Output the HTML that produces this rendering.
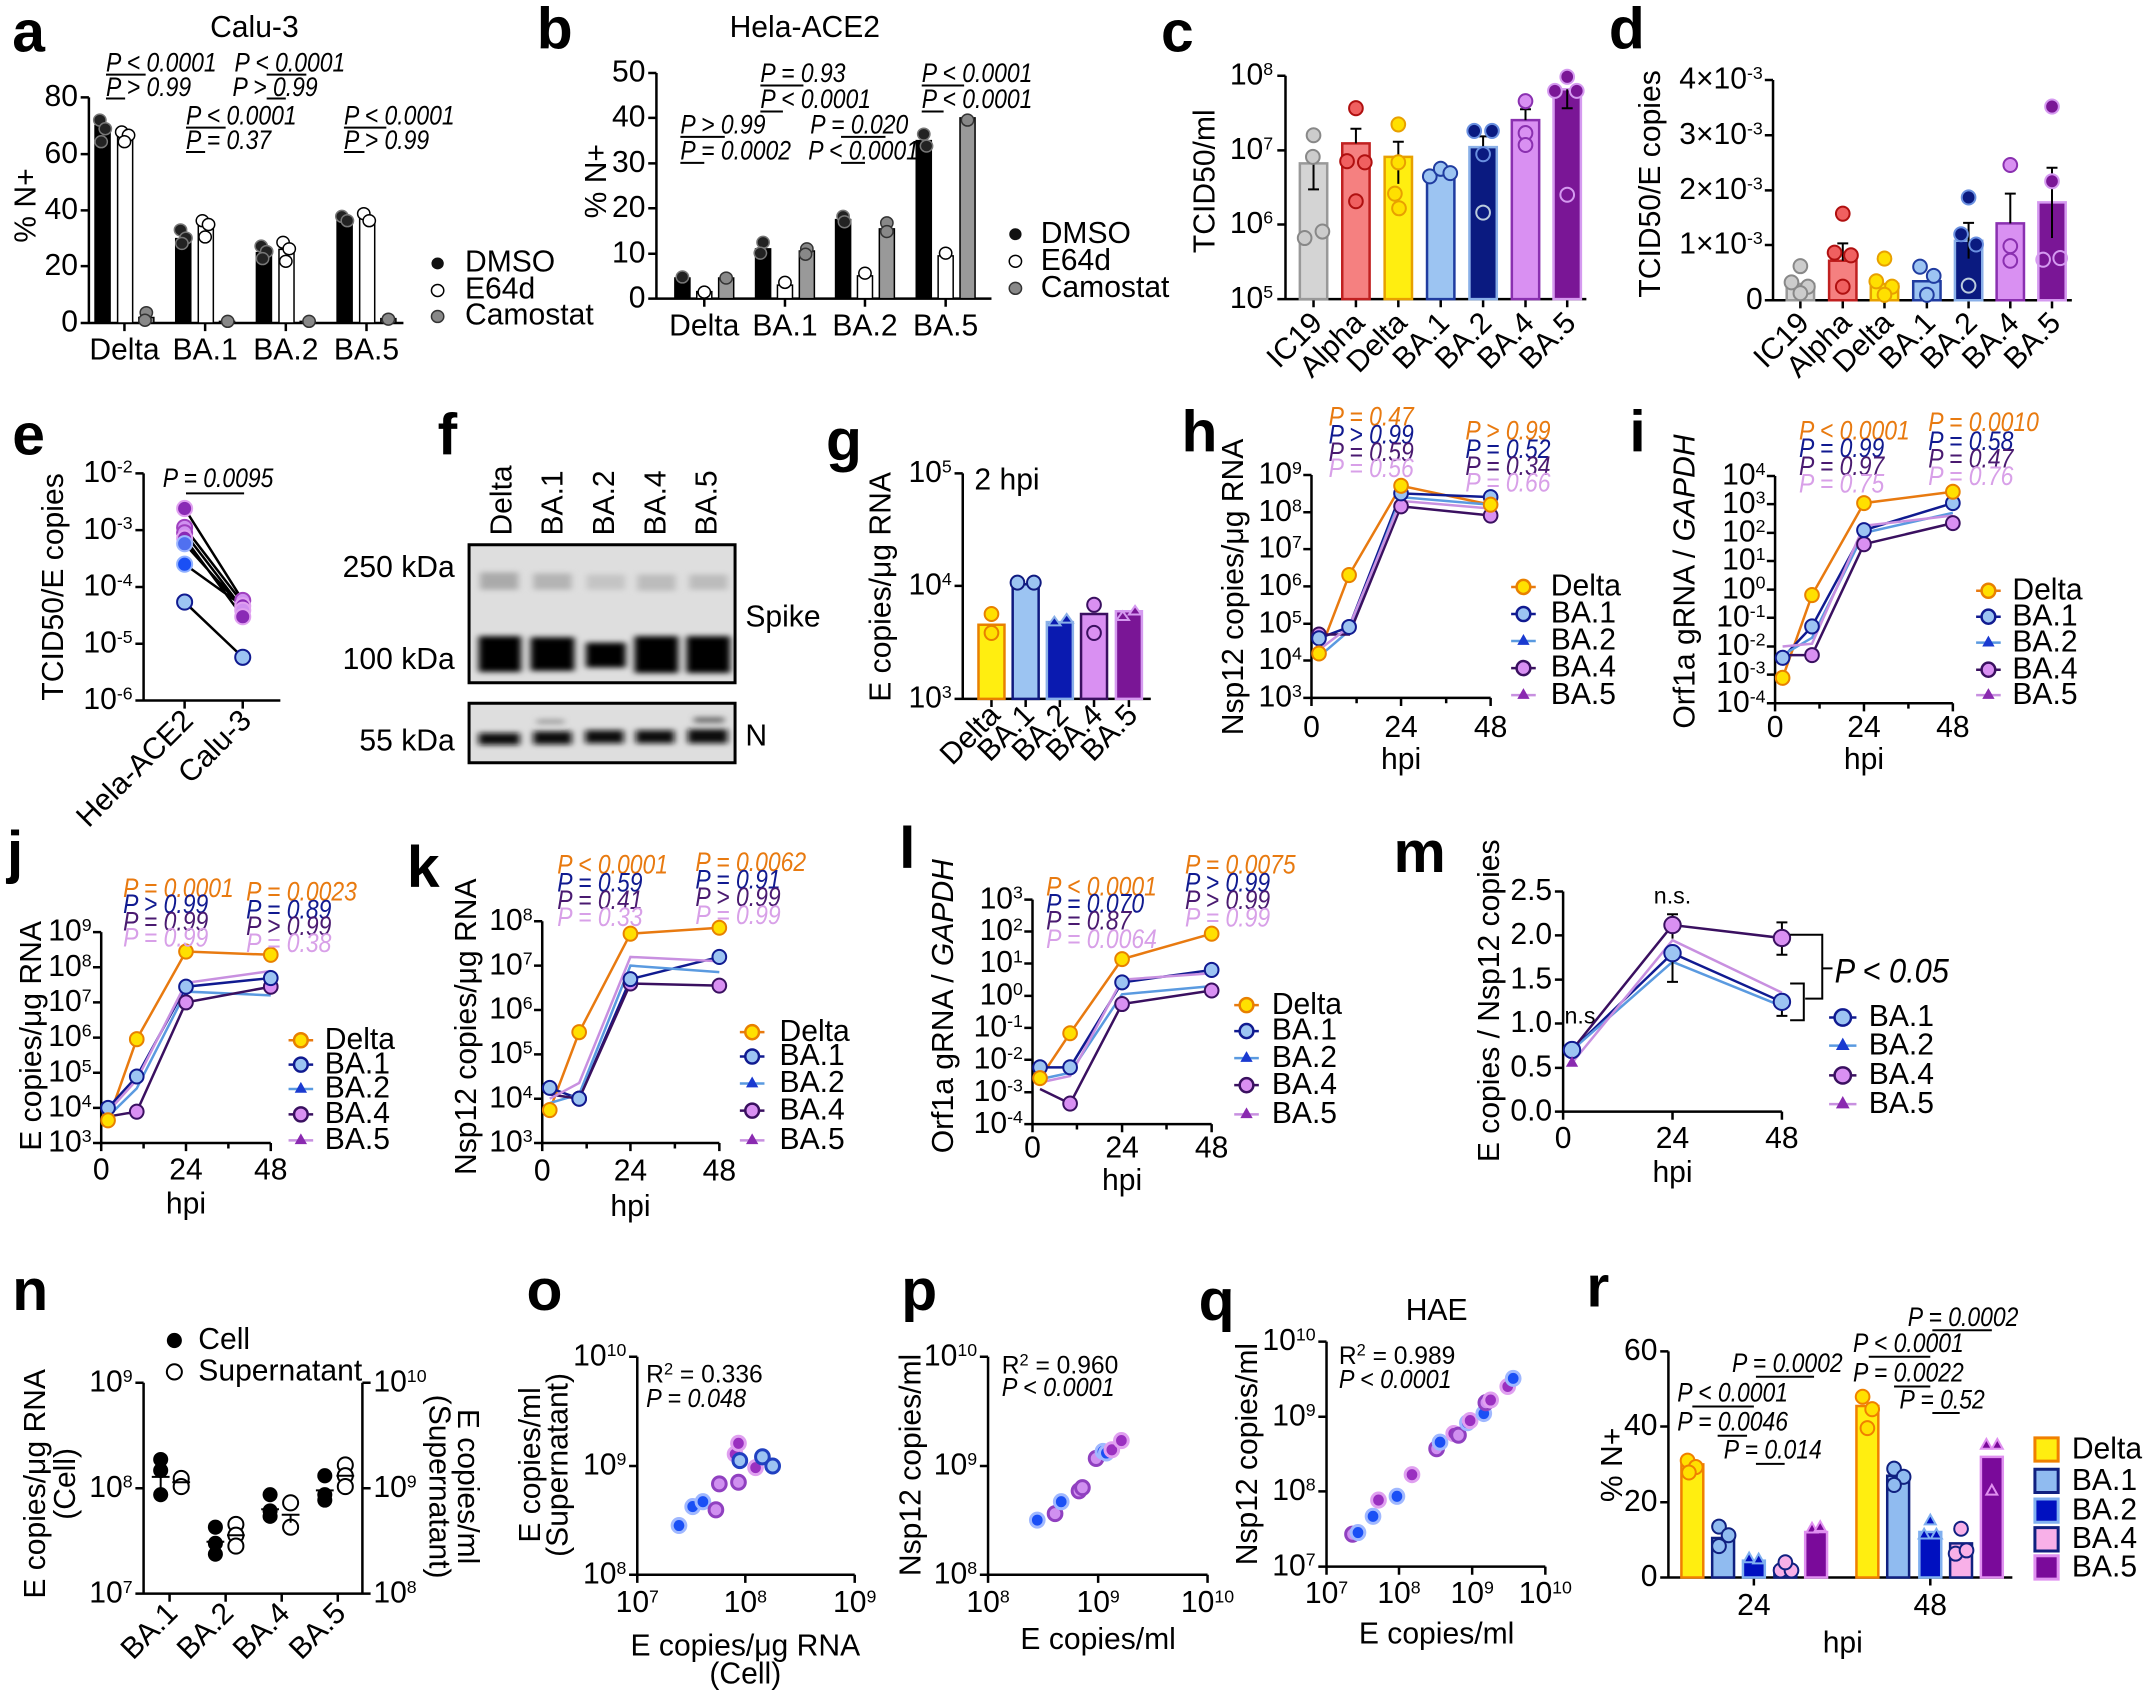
<!DOCTYPE html>
<html><head><meta charset="utf-8"><style>
html,body{margin:0;padding:0;background:#fff}
svg{display:block}
text{font-family:"Liberation Sans",Arial,sans-serif}
*{vector-effect:non-scaling-stroke}
.L{font-size:86px;font-weight:bold}
.t{font-size:44px;text-anchor:end}
.tm{font-size:44px;text-anchor:middle}
.ti{font-size:44px}
.p{font-size:39px;font-style:italic}
.g{font-size:44px}
.ax{fill:none;stroke:#000;stroke-width:2.5}
.e{stroke:#000;stroke-width:2;fill:none}
tspan.s{font-size:26px}
</style></head><body>
<svg width="2145" height="1697" viewBox="0 0 3137 3137" preserveAspectRatio="none" xmlns="http://www.w3.org/2000/svg">
<rect width="3137" height="3137" fill="#fff"/>
<defs><filter id="bl" x="-20%" y="-50%" width="140%" height="200%"><feGaussianBlur stdDeviation="5"/></filter></defs>

<!-- ===== Panel a ===== -->
<text class="L" transform="translate(18 95) scale(1 1.264)">a</text>
<text class="tm" transform="translate(372 68) scale(1 1.264)">Calu-3</text>
<path class="ax" d="M130,180 V597 H590 M118,180H130 M118,285H130 M118,389H130 M118,492H130 M118,597H130 M182,597V612 M300,597V612 M418,597V612 M536,597V612"/>
<text class="t" transform="translate(114 196) scale(1 1.264)">80</text>
<text class="t" transform="translate(114 301) scale(1 1.264)">60</text>
<text class="t" transform="translate(114 405) scale(1 1.264)">40</text>
<text class="t" transform="translate(114 508) scale(1 1.264)">20</text>
<text class="t" transform="translate(114 613) scale(1 1.264)">0</text>
<text class="tm" transform="translate(52 380) scale(1 1.264) rotate(-90)">% N+</text>
<text class="tm" transform="translate(182 665) scale(1 1.264)">Delta</text>
<text class="tm" transform="translate(300 665) scale(1 1.264)">BA.1</text>
<text class="tm" transform="translate(418 665) scale(1 1.264)">BA.2</text>
<text class="tm" transform="translate(536 665) scale(1 1.264)">BA.5</text>
<g stroke="#000" stroke-width="1.5">
<rect x="139" y="232" width="22" height="365" fill="#000"/>
<rect x="172" y="253" width="22" height="344" fill="#fff"/>
<rect x="203" y="587" width="22" height="10" fill="#888"/>
<rect x="257" y="441" width="22" height="156" fill="#000"/>
<rect x="290" y="415" width="22" height="182" fill="#fff"/>
<rect x="321" y="594" width="22" height="3" fill="#888"/>
<rect x="375" y="467" width="22" height="130" fill="#000"/>
<rect x="408" y="461" width="22" height="136" fill="#fff"/>
<rect x="439" y="594" width="22" height="3" fill="#888"/>
<rect x="493" y="404" width="22" height="193" fill="#000"/>
<rect x="526" y="404" width="22" height="193" fill="#fff"/>
<rect x="557" y="589" width="22" height="8" fill="#888"/>
</g>
<g stroke="#777" stroke-width="1.5" fill="#222">
<ellipse cx="146" cy="222" rx="9" ry="11"/><ellipse cx="154" cy="238" rx="9" ry="11"/><ellipse cx="148" cy="262" rx="9" ry="11"/>
<ellipse cx="264" cy="425" rx="9" ry="11"/><ellipse cx="272" cy="440" rx="9" ry="11"/><ellipse cx="266" cy="450" rx="9" ry="11"/>
<ellipse cx="382" cy="455" rx="9" ry="11"/><ellipse cx="390" cy="465" rx="9" ry="11"/><ellipse cx="384" cy="478" rx="9" ry="11"/>
<ellipse cx="500" cy="400" rx="9" ry="11"/><ellipse cx="508" cy="408" rx="9" ry="11"/>
</g>
<g stroke="#000" stroke-width="1.5" fill="#fff">
<ellipse cx="178" cy="244" rx="9" ry="11"/><ellipse cx="188" cy="250" rx="9" ry="11"/><ellipse cx="182" cy="262" rx="9" ry="11"/>
<ellipse cx="296" cy="408" rx="9" ry="11"/><ellipse cx="305" cy="415" rx="9" ry="11"/><ellipse cx="300" cy="438" rx="9" ry="11"/>
<ellipse cx="414" cy="448" rx="9" ry="11"/><ellipse cx="423" cy="460" rx="9" ry="11"/><ellipse cx="418" cy="483" rx="9" ry="11"/>
<ellipse cx="532" cy="395" rx="9" ry="11"/><ellipse cx="540" cy="408" rx="9" ry="11"/>
</g>
<g stroke="#333" stroke-width="1.5" fill="#888">
<ellipse cx="214" cy="578" rx="9" ry="11"/><ellipse cx="212" cy="592" rx="9" ry="11"/>
<ellipse cx="333" cy="594" rx="9" ry="11"/><ellipse cx="452" cy="594" rx="9" ry="11"/><ellipse cx="568" cy="590" rx="9" ry="11"/>
</g>
<text class="p" transform="translate(155 132) scale(0.86 1.264)">P &lt; 0.0001</text>
<text class="p" transform="translate(155 177) scale(0.86 1.264)">P &gt; 0.99</text>
<text class="p" transform="translate(343 132) scale(0.86 1.264)">P &lt; 0.0001</text>
<text class="p" transform="translate(340 177) scale(0.86 1.264)">P &gt; 0.99</text>
<text class="p" transform="translate(272 230) scale(0.86 1.264)">P &lt; 0.0001</text>
<text class="p" transform="translate(272 275) scale(0.86 1.264)">P = 0.37</text>
<text class="p" transform="translate(503 230) scale(0.86 1.264)">P &lt; 0.0001</text>
<text class="p" transform="translate(503 275) scale(0.86 1.264)">P &gt; 0.99</text>
<path class="e" d="M155,138H213 M155,182H183 M390,138H448 M390,182H418 M272,236H330 M272,281H300 M503,236H565 M503,281H533"/>
<ellipse cx="640" cy="487" rx="9" ry="11" fill="#111"/><ellipse cx="640" cy="537" rx="9" ry="11" fill="#fff" stroke="#000" stroke-width="1.5"/><ellipse cx="640" cy="585" rx="9" ry="11" fill="#888" stroke="#333" stroke-width="1.5"/>
<text class="g" transform="translate(680 502) scale(1 1.264)">DMSO</text>
<text class="g" transform="translate(680 552) scale(1 1.264)">E64d</text>
<text class="g" transform="translate(680 600) scale(1 1.264)">Camostat</text>

<!-- ===== Panel b ===== -->
<text class="L" transform="translate(785 90) scale(1 1.264)">b</text>
<text class="tm" transform="translate(1177 68) scale(1 1.264)">Hela-ACE2</text>
<path class="ax" d="M960,135 V552 H1450 M948,135H960 M948,218H960 M948,302H960 M948,385H960 M948,469H960 M948,552H960 M1030,552V567 M1148,552V567 M1265,552V567 M1383,552V567"/>
<text class="t" transform="translate(944 151) scale(1 1.264)">50</text>
<text class="t" transform="translate(944 234) scale(1 1.264)">40</text>
<text class="t" transform="translate(944 318) scale(1 1.264)">30</text>
<text class="t" transform="translate(944 401) scale(1 1.264)">20</text>
<text class="t" transform="translate(944 485) scale(1 1.264)">10</text>
<text class="t" transform="translate(944 568) scale(1 1.264)">0</text>
<text class="tm" transform="translate(886 335) scale(1 1.264) rotate(-90)">% N+</text>
<text class="tm" transform="translate(1030 620) scale(1 1.264)">Delta</text>
<text class="tm" transform="translate(1148 620) scale(1 1.264)">BA.1</text>
<text class="tm" transform="translate(1265 620) scale(1 1.264)">BA.2</text>
<text class="tm" transform="translate(1383 620) scale(1 1.264)">BA.5</text>
<g stroke="#000" stroke-width="1.5">
<rect x="987" y="514" width="22" height="38" fill="#000"/><rect x="1019" y="539" width="22" height="13" fill="#fff"/><rect x="1051" y="514" width="22" height="38" fill="#999"/>
<rect x="1105" y="460" width="22" height="92" fill="#000"/><rect x="1137" y="527" width="22" height="25" fill="#fff"/><rect x="1169" y="464" width="22" height="88" fill="#999"/>
<rect x="1222" y="406" width="22" height="146" fill="#000"/><rect x="1254" y="510" width="22" height="42" fill="#fff"/><rect x="1286" y="423" width="22" height="129" fill="#999"/>
<rect x="1340" y="260" width="22" height="292" fill="#000"/><rect x="1372" y="473" width="22" height="79" fill="#fff"/><rect x="1404" y="218" width="22" height="334" fill="#999"/>
</g>
<g stroke="#777" stroke-width="1.5" fill="#222">
<ellipse cx="998" cy="512" rx="9" ry="11"/><ellipse cx="1116" cy="448" rx="9" ry="11"/><ellipse cx="1112" cy="468" rx="9" ry="11"/><ellipse cx="1233" cy="400" rx="9" ry="11"/><ellipse cx="1235" cy="410" rx="9" ry="11"/><ellipse cx="1351" cy="248" rx="9" ry="11"/><ellipse cx="1355" cy="270" rx="9" ry="11"/>
</g>
<g stroke="#000" stroke-width="1.5" fill="#fff">
<ellipse cx="1030" cy="540" rx="9" ry="11"/><ellipse cx="1148" cy="522" rx="9" ry="11"/><ellipse cx="1265" cy="505" rx="9" ry="11"/><ellipse cx="1383" cy="468" rx="9" ry="11"/>
</g>
<g stroke="#333" stroke-width="1.5" fill="#888">
<ellipse cx="1062" cy="514" rx="9" ry="11"/><ellipse cx="1180" cy="460" rx="9" ry="11"/><ellipse cx="1178" cy="470" rx="9" ry="11"/><ellipse cx="1297" cy="412" rx="9" ry="11"/><ellipse cx="1297" cy="428" rx="9" ry="11"/><ellipse cx="1415" cy="222" rx="9" ry="11"/>
</g>
<text class="p" transform="translate(995 247) scale(0.86 1.264)">P &gt; 0.99</text>
<text class="p" transform="translate(995 295) scale(0.86 1.264)">P = 0.0002</text>
<text class="p" transform="translate(1112 152) scale(0.86 1.264)">P = 0.93</text>
<text class="p" transform="translate(1112 200) scale(0.86 1.264)">P &lt; 0.0001</text>
<text class="p" transform="translate(1185 247) scale(0.86 1.264)">P = 0.020</text>
<text class="p" transform="translate(1182 295) scale(0.86 1.264)">P &lt; 0.0001</text>
<text class="p" transform="translate(1348 152) scale(0.86 1.264)">P &lt; 0.0001</text>
<text class="p" transform="translate(1348 200) scale(0.86 1.264)">P &lt; 0.0001</text>
<path class="e" d="M995,253H1060 M995,301H1030 M1112,158H1175 M1112,206H1145 M1230,253H1295 M1230,301H1265 M1348,158H1410 M1348,206H1380"/>
<ellipse cx="1485" cy="433" rx="9" ry="11" fill="#111"/><ellipse cx="1485" cy="483" rx="9" ry="11" fill="#fff" stroke="#000" stroke-width="1.5"/><ellipse cx="1485" cy="533" rx="9" ry="11" fill="#888" stroke="#333" stroke-width="1.5"/>
<text class="g" transform="translate(1522 449) scale(1 1.264)">DMSO</text>
<text class="g" transform="translate(1522 499) scale(1 1.264)">E64d</text>
<text class="g" transform="translate(1522 549) scale(1 1.264)">Camostat</text>

<!-- ===== Panel c ===== -->
<text class="L" transform="translate(1698 95) scale(1 1.264)">c</text>
<path class="ax" d="M1880,140 V553 H2320 M1868,140H1880 M1868,278H1880 M1868,415H1880 M1868,553H1880 M1921,553V568 M1983,553V568 M2045,553V568 M2107,553V568 M2169,553V568 M2231,553V568 M2292,553V568"/>
<text class="t" transform="translate(1862 156) scale(1 1.264)">10<tspan class="s" dy="-14">8</tspan></text>
<text class="t" transform="translate(1862 294) scale(1 1.264)">10<tspan class="s" dy="-14">7</tspan></text>
<text class="t" transform="translate(1862 431) scale(1 1.264)">10<tspan class="s" dy="-14">6</tspan></text>
<text class="t" transform="translate(1862 569) scale(1 1.264)">10<tspan class="s" dy="-14">5</tspan></text>
<text class="tm" transform="translate(1776 335) scale(1 1.264) rotate(-90)">TCID50/ml</text>
<g stroke-width="2.5">
<rect x="1901" y="302" width="40" height="251" fill="#d4d4d4" stroke="#999"/>
<rect x="1963" y="265" width="40" height="288" fill="#f58080" stroke="#c02020"/>
<rect x="2025" y="290" width="40" height="263" fill="#ffee10" stroke="#e8a000"/>
<rect x="2087" y="322" width="40" height="231" fill="#9cc4f2" stroke="#203ca0"/>
<rect x="2149" y="272" width="40" height="281" fill="#0a1a80" stroke="#8ab0e8"/>
<rect x="2211" y="222" width="40" height="331" fill="#d990f2" stroke="#8a30b0"/>
<rect x="2272" y="165" width="40" height="388" fill="#7a1696" stroke="#d59af0"/>
</g>
<path class="e" d="M1921,302V350 M1913,350H1929 M1983,265V238 M1975,238H1991 M2045,290V262 M2037,262H2053 M2045,290V340 M2169,272V252 M2161,252H2177 M2231,222V202 M2223,202H2239 M2292,165V200 M2284,200H2300" stroke-width="2"/>
<g stroke-width="2">
<g fill="#ccc" stroke="#888"><ellipse cx="1921" cy="250" rx="10" ry="13"/><ellipse cx="1920" cy="290" rx="10" ry="13"/><ellipse cx="1908" cy="440" rx="10" ry="13"/><ellipse cx="1934" cy="428" rx="10" ry="13"/></g>
<g fill="#f06060" stroke="#b01010"><ellipse cx="1983" cy="200" rx="10" ry="13"/><ellipse cx="1970" cy="298" rx="10" ry="13"/><ellipse cx="1996" cy="300" rx="10" ry="13"/><ellipse cx="1983" cy="372" rx="10" ry="13"/></g>
<g fill="#ffe000" stroke="#e8a000"><ellipse cx="2045" cy="230" rx="10" ry="13"/><ellipse cx="2045" cy="300" rx="10" ry="13"/><ellipse cx="2040" cy="358" rx="10" ry="13"/><ellipse cx="2046" cy="385" rx="10" ry="13"/></g>
<g fill="#9cc4f2" stroke="#203ca0"><ellipse cx="2091" cy="326" rx="10" ry="13"/><ellipse cx="2107" cy="312" rx="10" ry="13"/><ellipse cx="2121" cy="320" rx="10" ry="13"/></g>
<g fill="#0a1a80" stroke="#6a90e0"><ellipse cx="2156" cy="242" rx="10" ry="13"/><ellipse cx="2182" cy="242" rx="10" ry="13"/><ellipse cx="2169" cy="285" rx="10" ry="13"/><ellipse cx="2169" cy="393" rx="10" ry="13" fill="none" stroke="#bcd"/></g>
<g fill="#d990f2" stroke="#8a30b0"><ellipse cx="2231" cy="187" rx="10" ry="13"/><ellipse cx="2231" cy="246" rx="10" ry="13"/><ellipse cx="2231" cy="268" rx="10" ry="13"/></g>
<g fill="#7a1696" stroke="#d59af0"><ellipse cx="2292" cy="142" rx="10" ry="13"/><ellipse cx="2274" cy="168" rx="10" ry="13"/><ellipse cx="2306" cy="168" rx="10" ry="13"/><ellipse cx="2292" cy="360" rx="10" ry="13" fill="none"/></g>
</g>
<text class="t" transform="translate(1936 600) scale(1 1.264) rotate(-45)">IC19</text>
<text class="t" transform="translate(1998 600) scale(1 1.264) rotate(-45)">Alpha</text>
<text class="t" transform="translate(2060 600) scale(1 1.264) rotate(-45)">Delta</text>
<text class="t" transform="translate(2122 600) scale(1 1.264) rotate(-45)">BA.1</text>
<text class="t" transform="translate(2184 600) scale(1 1.264) rotate(-45)">BA.2</text>
<text class="t" transform="translate(2246 600) scale(1 1.264) rotate(-45)">BA.4</text>
<text class="t" transform="translate(2307 600) scale(1 1.264) rotate(-45)">BA.5</text>

<!-- ===== Panel d ===== -->
<text class="L" transform="translate(2353 90) scale(1 1.264)">d</text>
<path class="ax" d="M2593,148 V555 H3030 M2581,148H2593 M2581,250H2593 M2581,352H2593 M2581,453H2593 M2581,555H2593 M2633,555V570 M2695,555V570 M2756,555V570 M2818,555V570 M2879,555V570 M2940,555V570 M3001,555V570"/>
<text class="t" transform="translate(2578 164) scale(1 1.264)">4×10<tspan class="s" dy="-14">-3</tspan></text>
<text class="t" transform="translate(2578 266) scale(1 1.264)">3×10<tspan class="s" dy="-14">-3</tspan></text>
<text class="t" transform="translate(2578 368) scale(1 1.264)">2×10<tspan class="s" dy="-14">-3</tspan></text>
<text class="t" transform="translate(2578 469) scale(1 1.264)">1×10<tspan class="s" dy="-14">-3</tspan></text>
<text class="t" transform="translate(2578 571) scale(1 1.264)">0</text>
<text class="tm" transform="translate(2428 340) scale(1 1.264) rotate(-90)">TCID50/E copies</text>
<g stroke-width="2.5">
<rect x="2613" y="525" width="40" height="30" fill="#d4d4d4" stroke="#999"/>
<rect x="2675" y="482" width="40" height="73" fill="#f58080" stroke="#c02020"/>
<rect x="2736" y="525" width="40" height="30" fill="#ffee10" stroke="#e8a000"/>
<rect x="2798" y="520" width="40" height="35" fill="#9cc4f2" stroke="#203ca0"/>
<rect x="2859" y="445" width="40" height="110" fill="#0a1a80" stroke="#8ab0e8"/>
<rect x="2920" y="413" width="40" height="142" fill="#d990f2" stroke="#8a30b0"/>
<rect x="2981" y="374" width="40" height="181" fill="#7a1696" stroke="#d59af0"/>
</g>
<path class="e" d="M2695,482V450 M2687,450H2703 M2879,445V412 M2871,412H2887 M2879,445V478 M2940,413V358 M2932,358H2948 M3001,374V310 M2993,310H3009 M3001,374V440" stroke-width="2"/>
<g stroke-width="2">
<g fill="#ccc" stroke="#888"><ellipse cx="2633" cy="492" rx="10" ry="13"/><ellipse cx="2620" cy="522" rx="10" ry="13"/><ellipse cx="2644" cy="530" rx="10" ry="13"/><ellipse cx="2633" cy="542" rx="10" ry="13"/></g>
<g fill="#f06060" stroke="#b01010"><ellipse cx="2695" cy="395" rx="10" ry="13"/><ellipse cx="2683" cy="467" rx="10" ry="13"/><ellipse cx="2707" cy="472" rx="10" ry="13"/><ellipse cx="2695" cy="530" rx="10" ry="13"/></g>
<g fill="#ffe000" stroke="#e8a000"><ellipse cx="2756" cy="478" rx="10" ry="13"/><ellipse cx="2744" cy="520" rx="10" ry="13"/><ellipse cx="2767" cy="530" rx="10" ry="13"/><ellipse cx="2756" cy="545" rx="10" ry="13"/></g>
<g fill="#9cc4f2" stroke="#203ca0"><ellipse cx="2808" cy="493" rx="10" ry="13"/><ellipse cx="2828" cy="510" rx="10" ry="13"/><ellipse cx="2818" cy="545" rx="10" ry="13"/></g>
<g fill="#0a1a80" stroke="#6a90e0"><ellipse cx="2879" cy="365" rx="10" ry="13"/><ellipse cx="2868" cy="433" rx="10" ry="13"/><ellipse cx="2890" cy="452" rx="10" ry="13"/><ellipse cx="2879" cy="528" rx="10" ry="13" fill="none" stroke="#bcd"/></g>
<g fill="#d990f2" stroke="#8a30b0"><ellipse cx="2940" cy="305" rx="10" ry="13"/><ellipse cx="2940" cy="455" rx="10" ry="13"/><ellipse cx="2940" cy="482" rx="10" ry="13"/></g>
<g fill="#7a1696" stroke="#d59af0"><ellipse cx="3001" cy="197" rx="10" ry="13"/><ellipse cx="3001" cy="335" rx="10" ry="13"/><ellipse cx="2988" cy="480" rx="10" ry="13" fill="none"/><ellipse cx="3013" cy="477" rx="10" ry="13" fill="none"/></g>
</g>
<text class="t" transform="translate(2648 600) scale(1 1.264) rotate(-45)">IC19</text>
<text class="t" transform="translate(2710 600) scale(1 1.264) rotate(-45)">Alpha</text>
<text class="t" transform="translate(2771 600) scale(1 1.264) rotate(-45)">Delta</text>
<text class="t" transform="translate(2833 600) scale(1 1.264) rotate(-45)">BA.1</text>
<text class="t" transform="translate(2894 600) scale(1 1.264) rotate(-45)">BA.2</text>
<text class="t" transform="translate(2955 600) scale(1 1.264) rotate(-45)">BA.4</text>
<text class="t" transform="translate(3016 600) scale(1 1.264) rotate(-45)">BA.5</text>

<!-- ===== Panel e ===== -->
<text class="L" transform="translate(18 840) scale(1 1.264)">e</text>
<path class="ax" d="M210,875 V1295 H410 M198,875H210 M198,980H210 M198,1085H210 M198,1190H210 M198,1295H210 M270,1295V1310 M355,1295V1310"/>
<text class="t" transform="translate(194 891) scale(1 1.264)">10<tspan class="s" dy="-14">-2</tspan></text>
<text class="t" transform="translate(194 996) scale(1 1.264)">10<tspan class="s" dy="-14">-3</tspan></text>
<text class="t" transform="translate(194 1101) scale(1 1.264)">10<tspan class="s" dy="-14">-4</tspan></text>
<text class="t" transform="translate(194 1206) scale(1 1.264)">10<tspan class="s" dy="-14">-5</tspan></text>
<text class="t" transform="translate(194 1311) scale(1 1.264)">10<tspan class="s" dy="-14">-6</tspan></text>
<text class="tm" transform="translate(92 1085) scale(1 1.264) rotate(-90)">TCID50/E copies</text>
<text class="p" transform="translate(238 900) scale(0.86 1.264)">P = 0.0095</text>
<path class="e" d="M272,912H357"/>
<path stroke="#000" stroke-width="2.5" d="M270,940L355,1110 M270,975L355,1115 M270,985L355,1125 M270,995L355,1140 M270,1005L355,1125 M270,1043L355,1120 M270,1113L355,1215"/>
<g stroke-width="2">
<ellipse cx="270" cy="940" rx="11" ry="14" fill="#8a2ab5" stroke="#e0a0f0"/><ellipse cx="270" cy="975" rx="11" ry="14" fill="#d090f0" stroke="#a040c0"/><ellipse cx="270" cy="985" rx="11" ry="14" fill="#d090f0" stroke="#a040c0"/><ellipse cx="270" cy="995" rx="11" ry="14" fill="#8a2ab5" stroke="#e0a0f0"/><ellipse cx="270" cy="1005" rx="11" ry="14" fill="#5070f0" stroke="#a0b8ff"/><ellipse cx="270" cy="1043" rx="11" ry="14" fill="#1a4ff5" stroke="#90b0ff"/><ellipse cx="270" cy="1113" rx="11" ry="14" fill="#9cc4f2" stroke="#101a90"/>
<ellipse cx="355" cy="1110" rx="11" ry="14" fill="#d090f0" stroke="#a040c0"/><ellipse cx="355" cy="1120" rx="11" ry="14" fill="#8a2ab5" stroke="#e0a0f0"/><ellipse cx="355" cy="1128" rx="11" ry="14" fill="#d090f0" stroke="#e0a0f0"/><ellipse cx="355" cy="1140" rx="11" ry="14" fill="#8a2ab5" stroke="#e0a0f0"/><ellipse cx="355" cy="1215" rx="11" ry="14" fill="#9cc4f2" stroke="#101a90"/>
</g>
<text class="t" transform="translate(285 1335) scale(1 1.264) rotate(-45)">Hela-ACE2</text>
<text class="t" transform="translate(370 1335) scale(1 1.264) rotate(-45)">Calu-3</text>

<!-- ===== Panel f ===== -->
<text class="L" transform="translate(640 840) scale(1 1.264)">f</text>
<text class="ti" transform="translate(748 990) scale(1 1.264) rotate(-90)">Delta</text>
<text class="ti" transform="translate(823 990) scale(1 1.264) rotate(-90)">BA.1</text>
<text class="ti" transform="translate(898 990) scale(1 1.264) rotate(-90)">BA.2</text>
<text class="ti" transform="translate(973 990) scale(1 1.264) rotate(-90)">BA.4</text>
<text class="ti" transform="translate(1048 990) scale(1 1.264) rotate(-90)">BA.5</text>
<rect x="686" y="1007" width="389" height="255" fill="#dedede" stroke="#000" stroke-width="3"/>
<rect x="686" y="1300" width="389" height="110" fill="#dedede" stroke="#000" stroke-width="3"/>
<g filter="url(#bl)">
<rect x="702" y="1058" width="56" height="32" fill="#aaa"/><rect x="780" y="1060" width="56" height="30" fill="#b4b4b4"/><rect x="858" y="1062" width="56" height="28" fill="#c4c4c4"/><rect x="932" y="1062" width="56" height="30" fill="#bcbcbc"/><rect x="1008" y="1062" width="56" height="28" fill="#bcbcbc"/>
<rect x="700" y="1176" width="62" height="66" fill="#000"/><rect x="776" y="1178" width="64" height="62" fill="#000"/><rect x="857" y="1188" width="58" height="46" fill="#000"/><rect x="928" y="1176" width="64" height="68" fill="#000"/><rect x="1004" y="1176" width="64" height="68" fill="#000"/>
<rect x="700" y="1355" width="60" height="22" fill="#111"/><rect x="780" y="1352" width="56" height="24" fill="#111"/><rect x="856" y="1350" width="56" height="24" fill="#111"/><rect x="930" y="1350" width="56" height="24" fill="#111"/><rect x="1006" y="1348" width="58" height="26" fill="#111"/>
<rect x="785" y="1330" width="40" height="8" fill="#999"/><rect x="1015" y="1326" width="44" height="10" fill="#666"/>
</g>
<text class="t" transform="translate(665 1067) scale(1 1.264)">250 kDa</text>
<text class="t" transform="translate(665 1237) scale(1 1.264)">100 kDa</text>
<text class="t" transform="translate(665 1387) scale(1 1.264)">55 kDa</text>
<text class="g" transform="translate(1090 1158) scale(1 1.264)">Spike</text>
<text class="g" transform="translate(1090 1378) scale(1 1.264)">N</text>

<!-- ===== Panel g ===== -->
<text class="L" transform="translate(1208 850) scale(1 1.264)">g</text>
<path class="ax" d="M1408,875 V1292 H1683 M1396,875H1408 M1396,1083H1408 M1396,1292H1408 M1450,1292V1307 M1500,1292V1307 M1550,1292V1307 M1600,1292V1307 M1651,1292V1307"/>
<text class="t" transform="translate(1392 891) scale(1 1.264)">10<tspan class="s" dy="-14">5</tspan></text>
<text class="t" transform="translate(1392 1099) scale(1 1.264)">10<tspan class="s" dy="-14">4</tspan></text>
<text class="t" transform="translate(1392 1308) scale(1 1.264)">10<tspan class="s" dy="-14">3</tspan></text>
<text class="g" transform="translate(1425 905) scale(1 1.264)">2 hpi</text>
<text class="tm" transform="translate(1302 1085) scale(1 1.264) rotate(-90)">E copies/μg RNA</text>
<g stroke-width="2.5">
<rect x="1431" y="1155" width="38" height="137" fill="#ffee10" stroke="#e88000"/>
<rect x="1481" y="1080" width="38" height="212" fill="#9cc4f2" stroke="#101a80"/>
<rect x="1531" y="1150" width="38" height="142" fill="#0a1ab0" stroke="#8ab0e8"/>
<rect x="1581" y="1135" width="38" height="157" fill="#d990f2" stroke="#3a1060"/>
<rect x="1632" y="1130" width="38" height="162" fill="#7a1696" stroke="#d59af0"/>
</g>
<g stroke-width="2">
<ellipse cx="1450" cy="1135" rx="10" ry="13" fill="#ffe000" stroke="#e88000"/><ellipse cx="1450" cy="1170" rx="10" ry="13" fill="#ffe000" stroke="#e88000"/>
<ellipse cx="1488" cy="1077" rx="10" ry="13" fill="#9cc4f2" stroke="#101a80"/><ellipse cx="1512" cy="1077" rx="10" ry="13" fill="#9cc4f2" stroke="#101a80"/>
<polygon points="1542,1140 1533,1156 1551,1156" fill="#0a1ab0" stroke="#8ab0e8"/><polygon points="1560,1135 1551,1151 1569,1151" fill="#0a1ab0" stroke="#8ab0e8"/>
<ellipse cx="1600" cy="1118" rx="10" ry="13" fill="#d990f2" stroke="#3a1060"/><ellipse cx="1600" cy="1170" rx="10" ry="13" fill="#d990f2" stroke="#3a1060"/>
<polygon points="1642,1130 1633,1146 1651,1146" fill="#7a1696" stroke="#d59af0"/><polygon points="1660,1120 1651,1136 1669,1136" fill="#7a1696" stroke="#d59af0"/>
</g>
<text class="t" transform="translate(1465 1325) scale(1 1.264) rotate(-45)">Delta</text>
<text class="t" transform="translate(1515 1325) scale(1 1.264) rotate(-45)">BA.1</text>
<text class="t" transform="translate(1565 1325) scale(1 1.264) rotate(-45)">BA.2</text>
<text class="t" transform="translate(1615 1325) scale(1 1.264) rotate(-45)">BA.4</text>
<text class="t" transform="translate(1666 1325) scale(1 1.264) rotate(-45)">BA.5</text>

<!-- ===== Panel h ===== -->
<text class="L" transform="translate(1728 835) scale(1 1.264)">h</text>
<path class="ax" d="M1918,878 V1290 H2180 M1906,878H1918 M1906,947H1918 M1906,1015H1918 M1906,1084H1918 M1906,1153H1918 M1906,1221H1918 M1906,1290H1918 M1918,1290V1305 M1984,1290V1300 M2049,1290V1305 M2115,1290V1300 M2180,1290V1305"/>
<text class="t" transform="translate(1904 894) scale(1 1.264)">10<tspan class="s" dy="-14">9</tspan></text>
<text class="t" transform="translate(1904 963) scale(1 1.264)">10<tspan class="s" dy="-14">8</tspan></text>
<text class="t" transform="translate(1904 1031) scale(1 1.264)">10<tspan class="s" dy="-14">7</tspan></text>
<text class="t" transform="translate(1904 1100) scale(1 1.264)">10<tspan class="s" dy="-14">6</tspan></text>
<text class="t" transform="translate(1904 1169) scale(1 1.264)">10<tspan class="s" dy="-14">5</tspan></text>
<text class="t" transform="translate(1904 1237) scale(1 1.264)">10<tspan class="s" dy="-14">4</tspan></text>
<text class="t" transform="translate(1904 1306) scale(1 1.264)">10<tspan class="s" dy="-14">3</tspan></text>
<text class="tm" transform="translate(1818 1085) scale(1 1.264) rotate(-90)">Nsp12 copies/μg RNA</text>
<text class="tm" transform="translate(1918 1362) scale(1 1.264)">0</text>
<text class="tm" transform="translate(2049 1362) scale(1 1.264)">24</text>
<text class="tm" transform="translate(2180 1362) scale(1 1.264)">48</text>
<text class="tm" transform="translate(2049 1422) scale(1 1.264)">hpi</text>
<g fill="none" stroke-width="2.5">
<polyline points="1929,1208 1973,1063 2049,898 2180,933" stroke="#e87a10"/>
<polyline points="1929,1180 1973,1159 2049,912 2180,919" stroke="#101a90"/>
<polyline points="1929,1214 1973,1166 2049,919 2180,933" stroke="#5a9ae0"/>
<polyline points="1929,1173 1973,1173 2049,936 2180,953" stroke="#3a1060"/>
<polyline points="1929,1201 1973,1159 2049,926 2180,940" stroke="#c890e0"/>
</g>
<g stroke-width="2">
<ellipse cx="1929" cy="1173" rx="10" ry="13" fill="#d990f2" stroke="#3a1060"/><ellipse cx="2049" cy="936" rx="10" ry="13" fill="#d990f2" stroke="#3a1060"/><ellipse cx="2180" cy="953" rx="10" ry="13" fill="#d990f2" stroke="#3a1060"/>
<ellipse cx="1929" cy="1180" rx="10" ry="13" fill="#9cc4f2" stroke="#101a90"/><ellipse cx="1973" cy="1159" rx="10" ry="13" fill="#9cc4f2" stroke="#101a90"/><ellipse cx="2049" cy="912" rx="10" ry="13" fill="#9cc4f2" stroke="#101a90"/><ellipse cx="2180" cy="919" rx="10" ry="13" fill="#9cc4f2" stroke="#101a90"/>
<ellipse cx="1929" cy="1208" rx="10" ry="13" fill="#ffe000" stroke="#e88000"/><ellipse cx="1973" cy="1063" rx="10" ry="13" fill="#ffe000" stroke="#e88000"/><ellipse cx="2049" cy="898" rx="10" ry="13" fill="#ffe000" stroke="#e88000"/><ellipse cx="2180" cy="933" rx="10" ry="13" fill="#ffe000" stroke="#e88000"/>
</g>
<text class="p" fill="#e87a10" transform="translate(1943 787) scale(0.86 1.264)">P = 0.47</text>
<text class="p" fill="#101a90" transform="translate(1943 820) scale(0.86 1.264)">P &gt; 0.99</text>
<text class="p" fill="#4a1a70" transform="translate(1943 852) scale(0.86 1.264)">P = 0.59</text>
<text class="p" fill="#d8a0e8" transform="translate(1943 882) scale(0.86 1.264)">P = 0.56</text>
<text class="p" fill="#e87a10" transform="translate(2143 812) scale(0.86 1.264)">P &gt; 0.99</text>
<text class="p" fill="#101a90" transform="translate(2143 847) scale(0.86 1.264)">P = 0.52</text>
<text class="p" fill="#4a1a70" transform="translate(2143 878) scale(0.86 1.264)">P = 0.34</text>
<text class="p" fill="#d8a0e8" transform="translate(2143 909) scale(0.86 1.264)">P = 0.66</text>
<g stroke-width="2.5">
<line x1="2210" y1="1085" x2="2246" y2="1085" stroke="#e87a10"/><ellipse cx="2228" cy="1085" rx="10" ry="13" fill="#ffe000" stroke="#e88000"/>
<line x1="2210" y1="1135" x2="2246" y2="1135" stroke="#101a90"/><ellipse cx="2228" cy="1135" rx="10" ry="13" fill="#9cc4f2" stroke="#101a90"/>
<line x1="2210" y1="1185" x2="2246" y2="1185" stroke="#5a9ae0"/><polygon points="2228,1172 2219,1192 2237,1192" fill="#1a3ad0"/>
<line x1="2210" y1="1235" x2="2246" y2="1235" stroke="#3a1060"/><ellipse cx="2228" cy="1235" rx="10" ry="13" fill="#d990f2" stroke="#3a1060"/>
<line x1="2210" y1="1285" x2="2246" y2="1285" stroke="#c890e0"/><polygon points="2228,1272 2219,1292 2237,1292" fill="#8a2ab0"/>
</g>
<text class="g" transform="translate(2268 1101) scale(1 1.264)">Delta</text>
<text class="g" transform="translate(2268 1151) scale(1 1.264)">BA.1</text>
<text class="g" transform="translate(2268 1201) scale(1 1.264)">BA.2</text>
<text class="g" transform="translate(2268 1251) scale(1 1.264)">BA.4</text>
<text class="g" transform="translate(2268 1301) scale(1 1.264)">BA.5</text>

<!-- ===== Panel i ===== -->
<text class="L" transform="translate(2383 835) scale(1 1.264)">i</text>
<path class="ax" d="M2596,880 V1300 H2856 M2584,880H2596 M2584,932H2596 M2584,985H2596 M2584,1037H2596 M2584,1090H2596 M2584,1142H2596 M2584,1195H2596 M2584,1247H2596 M2584,1300H2596 M2596,1300V1315 M2661,1300V1310 M2726,1300V1315 M2791,1300V1310 M2856,1300V1315"/>
<text class="t" transform="translate(2582 896) scale(1 1.264)">10<tspan class="s" dy="-14">4</tspan></text>
<text class="t" transform="translate(2582 948) scale(1 1.264)">10<tspan class="s" dy="-14">3</tspan></text>
<text class="t" transform="translate(2582 1001) scale(1 1.264)">10<tspan class="s" dy="-14">2</tspan></text>
<text class="t" transform="translate(2582 1053) scale(1 1.264)">10<tspan class="s" dy="-14">1</tspan></text>
<text class="t" transform="translate(2582 1106) scale(1 1.264)">10<tspan class="s" dy="-14">0</tspan></text>
<text class="t" transform="translate(2582 1158) scale(1 1.264)">10<tspan class="s" dy="-14">-1</tspan></text>
<text class="t" transform="translate(2582 1211) scale(1 1.264)">10<tspan class="s" dy="-14">-2</tspan></text>
<text class="t" transform="translate(2582 1263) scale(1 1.264)">10<tspan class="s" dy="-14">-3</tspan></text>
<text class="t" transform="translate(2582 1316) scale(1 1.264)">10<tspan class="s" dy="-14">-4</tspan></text>
<text class="tm" transform="translate(2478 1075) scale(1 1.264) rotate(-90)">Orf1a gRNA / <tspan font-style="italic">GAPDH</tspan></text>
<text class="tm" transform="translate(2596 1362) scale(1 1.264)">0</text>
<text class="tm" transform="translate(2726 1362) scale(1 1.264)">24</text>
<text class="tm" transform="translate(2856 1362) scale(1 1.264)">48</text>
<text class="tm" transform="translate(2726 1422) scale(1 1.264)">hpi</text>
<g fill="none" stroke-width="2.5">
<polyline points="2607,1253 2650,1100 2726,930 2856,909" stroke="#e87a10"/>
<polyline points="2607,1216 2650,1158 2726,980 2856,930" stroke="#101a90"/>
<polyline points="2607,1211 2650,1179 2726,985 2856,948" stroke="#5a9ae0"/>
<polyline points="2607,1211 2650,1211 2726,1006 2856,967" stroke="#3a1060"/>
<polyline points="2607,1195 2650,1190 2726,972 2856,953" stroke="#c890e0"/>
</g>
<g stroke-width="2">
<ellipse cx="2650" cy="1211" rx="10" ry="13" fill="#d990f2" stroke="#3a1060"/><ellipse cx="2726" cy="1006" rx="10" ry="13" fill="#d990f2" stroke="#3a1060"/><ellipse cx="2856" cy="967" rx="10" ry="13" fill="#d990f2" stroke="#3a1060"/>
<ellipse cx="2607" cy="1216" rx="10" ry="13" fill="#9cc4f2" stroke="#101a90"/><ellipse cx="2650" cy="1158" rx="10" ry="13" fill="#9cc4f2" stroke="#101a90"/><ellipse cx="2726" cy="980" rx="10" ry="13" fill="#9cc4f2" stroke="#101a90"/><ellipse cx="2856" cy="930" rx="10" ry="13" fill="#9cc4f2" stroke="#101a90"/>
<ellipse cx="2607" cy="1253" rx="10" ry="13" fill="#ffe000" stroke="#e88000"/><ellipse cx="2650" cy="1100" rx="10" ry="13" fill="#ffe000" stroke="#e88000"/><ellipse cx="2726" cy="930" rx="10" ry="13" fill="#ffe000" stroke="#e88000"/><ellipse cx="2856" cy="909" rx="10" ry="13" fill="#ffe000" stroke="#e88000"/>
</g>
<text class="p" fill="#e87a10" transform="translate(2631 812) scale(0.86 1.264)">P &lt; 0.0001</text>
<text class="p" fill="#101a90" transform="translate(2631 845) scale(0.86 1.264)">P = 0.99</text>
<text class="p" fill="#4a1a70" transform="translate(2631 878) scale(0.86 1.264)">P = 0.97</text>
<text class="p" fill="#d8a0e8" transform="translate(2631 910) scale(0.86 1.264)">P = 0.75</text>
<text class="p" fill="#e87a10" transform="translate(2820 797) scale(0.86 1.264)">P = 0.0010</text>
<text class="p" fill="#101a90" transform="translate(2820 832) scale(0.86 1.264)">P = 0.58</text>
<text class="p" fill="#4a1a70" transform="translate(2820 864) scale(0.86 1.264)">P = 0.47</text>
<text class="p" fill="#d8a0e8" transform="translate(2820 897) scale(0.86 1.264)">P = 0.76</text>
<g stroke-width="2.5">
<line x1="2890" y1="1092" x2="2926" y2="1092" stroke="#e87a10"/><ellipse cx="2908" cy="1092" rx="10" ry="13" fill="#ffe000" stroke="#e88000"/>
<line x1="2890" y1="1140" x2="2926" y2="1140" stroke="#101a90"/><ellipse cx="2908" cy="1140" rx="10" ry="13" fill="#9cc4f2" stroke="#101a90"/>
<line x1="2890" y1="1188" x2="2926" y2="1188" stroke="#5a9ae0"/><polygon points="2908,1175 2899,1195 2917,1195" fill="#1a3ad0"/>
<line x1="2890" y1="1238" x2="2926" y2="1238" stroke="#3a1060"/><ellipse cx="2908" cy="1238" rx="10" ry="13" fill="#d990f2" stroke="#3a1060"/>
<line x1="2890" y1="1285" x2="2926" y2="1285" stroke="#c890e0"/><polygon points="2908,1272 2899,1292 2917,1292" fill="#8a2ab0"/>
</g>
<text class="g" transform="translate(2943 1108) scale(1 1.264)">Delta</text>
<text class="g" transform="translate(2943 1156) scale(1 1.264)">BA.1</text>
<text class="g" transform="translate(2943 1204) scale(1 1.264)">BA.2</text>
<text class="g" transform="translate(2943 1254) scale(1 1.264)">BA.4</text>
<text class="g" transform="translate(2943 1301) scale(1 1.264)">BA.5</text>

<!-- ===== Panel j ===== -->
<text class="L" transform="translate(10 1612) scale(1 1.264)">j</text>
<path class="ax" d="M148,1723 V2113 H396 M136,1723H148 M136,1788H148 M136,1853H148 M136,1918H148 M136,1983H148 M136,2048H148 M136,2113H148 M148,2113V2128 M210,2113V2123 M272,2113V2128 M334,2113V2123 M396,2113V2128"/>
<text class="t" transform="translate(134 1739) scale(1 1.264)">10<tspan class="s" dy="-14">9</tspan></text>
<text class="t" transform="translate(134 1804) scale(1 1.264)">10<tspan class="s" dy="-14">8</tspan></text>
<text class="t" transform="translate(134 1869) scale(1 1.264)">10<tspan class="s" dy="-14">7</tspan></text>
<text class="t" transform="translate(134 1934) scale(1 1.264)">10<tspan class="s" dy="-14">6</tspan></text>
<text class="t" transform="translate(134 1999) scale(1 1.264)">10<tspan class="s" dy="-14">5</tspan></text>
<text class="t" transform="translate(134 2064) scale(1 1.264)">10<tspan class="s" dy="-14">4</tspan></text>
<text class="t" transform="translate(134 2129) scale(1 1.264)">10<tspan class="s" dy="-14">3</tspan></text>
<text class="tm" transform="translate(60 1915) scale(1 1.264) rotate(-90)">E copies/μg RNA</text>
<text class="tm" transform="translate(148 2180) scale(1 1.264)">0</text>
<text class="tm" transform="translate(272 2180) scale(1 1.264)">24</text>
<text class="tm" transform="translate(396 2180) scale(1 1.264)">48</text>
<text class="tm" transform="translate(272 2243) scale(1 1.264)">hpi</text>
<g fill="none" stroke-width="2.5">
<polyline points="158,2071 200,1921 272,1759 396,1765" stroke="#e87a10"/>
<polyline points="158,2048 200,1990 272,1824 396,1808" stroke="#101a90"/>
<polyline points="158,2064 200,2012 272,1833 396,1840" stroke="#5a9ae0"/>
<polyline points="158,2064 200,2055 272,1853 396,1824" stroke="#3a1060"/>
<polyline points="158,2055 200,1996 272,1817 396,1795" stroke="#c890e0"/>
</g>
<g stroke-width="2">
<ellipse cx="200" cy="2055" rx="10" ry="13" fill="#d990f2" stroke="#3a1060"/><ellipse cx="272" cy="1853" rx="10" ry="13" fill="#d990f2" stroke="#3a1060"/><ellipse cx="396" cy="1824" rx="10" ry="13" fill="#d990f2" stroke="#3a1060"/>
<ellipse cx="158" cy="2048" rx="10" ry="13" fill="#9cc4f2" stroke="#101a90"/><ellipse cx="200" cy="1990" rx="10" ry="13" fill="#9cc4f2" stroke="#101a90"/><ellipse cx="272" cy="1824" rx="10" ry="13" fill="#9cc4f2" stroke="#101a90"/><ellipse cx="396" cy="1808" rx="10" ry="13" fill="#9cc4f2" stroke="#101a90"/>
<ellipse cx="158" cy="2071" rx="10" ry="13" fill="#ffe000" stroke="#e88000"/><ellipse cx="200" cy="1921" rx="10" ry="13" fill="#ffe000" stroke="#e88000"/><ellipse cx="272" cy="1759" rx="10" ry="13" fill="#ffe000" stroke="#e88000"/><ellipse cx="396" cy="1765" rx="10" ry="13" fill="#ffe000" stroke="#e88000"/>
</g>
<text class="p" fill="#e87a10" transform="translate(180 1658) scale(0.86 1.264)">P = 0.0001</text>
<text class="p" fill="#101a90" transform="translate(180 1688) scale(0.86 1.264)">P &gt; 0.99</text>
<text class="p" fill="#4a1a70" transform="translate(180 1720) scale(0.86 1.264)">P = 0.99</text>
<text class="p" fill="#d8a0e8" transform="translate(180 1750) scale(0.86 1.264)">P = 0.99</text>
<text class="p" fill="#e87a10" transform="translate(360 1665) scale(0.86 1.264)">P = 0.0023</text>
<text class="p" fill="#101a90" transform="translate(360 1698) scale(0.86 1.264)">P = 0.89</text>
<text class="p" fill="#4a1a70" transform="translate(360 1728) scale(0.86 1.264)">P &gt; 0.99</text>
<text class="p" fill="#d8a0e8" transform="translate(360 1760) scale(0.86 1.264)">P = 0.38</text>
<g stroke-width="2.5">
<line x1="422" y1="1923" x2="458" y2="1923" stroke="#e87a10"/><ellipse cx="440" cy="1923" rx="10" ry="13" fill="#ffe000" stroke="#e88000"/>
<line x1="422" y1="1968" x2="458" y2="1968" stroke="#101a90"/><ellipse cx="440" cy="1968" rx="10" ry="13" fill="#9cc4f2" stroke="#101a90"/>
<line x1="422" y1="2013" x2="458" y2="2013" stroke="#5a9ae0"/><polygon points="440,2000 431,2020 449,2020" fill="#1a3ad0"/>
<line x1="422" y1="2060" x2="458" y2="2060" stroke="#3a1060"/><ellipse cx="440" cy="2060" rx="10" ry="13" fill="#d990f2" stroke="#3a1060"/>
<line x1="422" y1="2108" x2="458" y2="2108" stroke="#c890e0"/><polygon points="440,2095 431,2115 449,2115" fill="#8a2ab0"/>
</g>
<text class="g" transform="translate(475 1939) scale(1 1.264)">Delta</text>
<text class="g" transform="translate(475 1984) scale(1 1.264)">BA.1</text>
<text class="g" transform="translate(475 2029) scale(1 1.264)">BA.2</text>
<text class="g" transform="translate(475 2076) scale(1 1.264)">BA.4</text>
<text class="g" transform="translate(475 2124) scale(1 1.264)">BA.5</text>

<!-- ===== Panel k ===== -->
<text class="L" transform="translate(595 1640) scale(1 1.264)">k</text>
<path class="ax" d="M793,1703 V2113 H1052 M781,1703H793 M781,1785H793 M781,1867H793 M781,1949H793 M781,2031H793 M781,2113H793 M793,2113V2128 M858,2113V2123 M922,2113V2128 M987,2113V2123 M1052,2113V2128"/>
<text class="t" transform="translate(779 1719) scale(1 1.264)">10<tspan class="s" dy="-14">8</tspan></text>
<text class="t" transform="translate(779 1801) scale(1 1.264)">10<tspan class="s" dy="-14">7</tspan></text>
<text class="t" transform="translate(779 1883) scale(1 1.264)">10<tspan class="s" dy="-14">6</tspan></text>
<text class="t" transform="translate(779 1965) scale(1 1.264)">10<tspan class="s" dy="-14">5</tspan></text>
<text class="t" transform="translate(779 2047) scale(1 1.264)">10<tspan class="s" dy="-14">4</tspan></text>
<text class="t" transform="translate(779 2129) scale(1 1.264)">10<tspan class="s" dy="-14">3</tspan></text>
<text class="tm" transform="translate(696 1898) scale(1 1.264) rotate(-90)">Nsp12 copies/μg RNA</text>
<text class="tm" transform="translate(793 2182) scale(1 1.264)">0</text>
<text class="tm" transform="translate(922 2182) scale(1 1.264)">24</text>
<text class="tm" transform="translate(1052 2182) scale(1 1.264)">48</text>
<text class="tm" transform="translate(922 2248) scale(1 1.264)">hpi</text>
<g fill="none" stroke-width="2.5">
<polyline points="804,2052 847,1908 922,1726 1052,1715" stroke="#e87a10"/>
<polyline points="804,2011 847,2031 922,1810 1052,1769" stroke="#101a90"/>
<polyline points="804,2039 847,2023 922,1785 1052,1797" stroke="#5a9ae0"/>
<polyline points="804,2023 847,2031 922,1818 1052,1822" stroke="#3a1060"/>
<polyline points="804,2031 847,2002 922,1769 1052,1777" stroke="#c890e0"/>
</g>
<g stroke-width="2">
<ellipse cx="847" cy="2031" rx="10" ry="13" fill="#d990f2" stroke="#3a1060"/><ellipse cx="922" cy="1818" rx="10" ry="13" fill="#d990f2" stroke="#3a1060"/><ellipse cx="1052" cy="1822" rx="10" ry="13" fill="#d990f2" stroke="#3a1060"/>
<ellipse cx="804" cy="2011" rx="10" ry="13" fill="#9cc4f2" stroke="#101a90"/><ellipse cx="847" cy="2031" rx="10" ry="13" fill="#9cc4f2" stroke="#101a90"/><ellipse cx="922" cy="1810" rx="10" ry="13" fill="#9cc4f2" stroke="#101a90"/><ellipse cx="1052" cy="1769" rx="10" ry="13" fill="#9cc4f2" stroke="#101a90"/>
<ellipse cx="804" cy="2052" rx="10" ry="13" fill="#ffe000" stroke="#e88000"/><ellipse cx="847" cy="1908" rx="10" ry="13" fill="#ffe000" stroke="#e88000"/><ellipse cx="922" cy="1726" rx="10" ry="13" fill="#ffe000" stroke="#e88000"/><ellipse cx="1052" cy="1715" rx="10" ry="13" fill="#ffe000" stroke="#e88000"/>
</g>
<text class="p" fill="#e87a10" transform="translate(815 1615) scale(0.86 1.264)">P &lt; 0.0001</text>
<text class="p" fill="#101a90" transform="translate(815 1648) scale(0.86 1.264)">P = 0.59</text>
<text class="p" fill="#4a1a70" transform="translate(815 1680) scale(0.86 1.264)">P = 0.41</text>
<text class="p" fill="#d8a0e8" transform="translate(815 1712) scale(0.86 1.264)">P = 0.33</text>
<text class="p" fill="#e87a10" transform="translate(1017 1610) scale(0.86 1.264)">P = 0.0062</text>
<text class="p" fill="#101a90" transform="translate(1017 1642) scale(0.86 1.264)">P = 0.91</text>
<text class="p" fill="#4a1a70" transform="translate(1017 1675) scale(0.86 1.264)">P &gt; 0.99</text>
<text class="p" fill="#d8a0e8" transform="translate(1017 1708) scale(0.86 1.264)">P = 0.99</text>
<g stroke-width="2.5">
<line x1="1082" y1="1908" x2="1118" y2="1908" stroke="#e87a10"/><ellipse cx="1100" cy="1908" rx="10" ry="13" fill="#ffe000" stroke="#e88000"/>
<line x1="1082" y1="1953" x2="1118" y2="1953" stroke="#101a90"/><ellipse cx="1100" cy="1953" rx="10" ry="13" fill="#9cc4f2" stroke="#101a90"/>
<line x1="1082" y1="2003" x2="1118" y2="2003" stroke="#5a9ae0"/><polygon points="1100,1990 1091,2010 1109,2010" fill="#1a3ad0"/>
<line x1="1082" y1="2053" x2="1118" y2="2053" stroke="#3a1060"/><ellipse cx="1100" cy="2053" rx="10" ry="13" fill="#d990f2" stroke="#3a1060"/>
<line x1="1082" y1="2108" x2="1118" y2="2108" stroke="#c890e0"/><polygon points="1100,2095 1091,2115 1109,2115" fill="#8a2ab0"/>
</g>
<text class="g" transform="translate(1140 1924) scale(1 1.264)">Delta</text>
<text class="g" transform="translate(1140 1969) scale(1 1.264)">BA.1</text>
<text class="g" transform="translate(1140 2019) scale(1 1.264)">BA.2</text>
<text class="g" transform="translate(1140 2069) scale(1 1.264)">BA.4</text>
<text class="g" transform="translate(1140 2124) scale(1 1.264)">BA.5</text>

<!-- ===== Panel l ===== -->
<text class="L" transform="translate(1315 1605) scale(1 1.264)">l</text>
<path class="ax" d="M1510,1663 V2078 H1772 M1498,1663H1510 M1498,1722H1510 M1498,1781H1510 M1498,1841H1510 M1498,1900H1510 M1498,1959H1510 M1498,2019H1510 M1498,2078H1510 M1510,2078V2093 M1575,2078V2088 M1641,2078V2093 M1706,2078V2088 M1772,2078V2093"/>
<text class="t" transform="translate(1496 1679) scale(1 1.264)">10<tspan class="s" dy="-14">3</tspan></text>
<text class="t" transform="translate(1496 1738) scale(1 1.264)">10<tspan class="s" dy="-14">2</tspan></text>
<text class="t" transform="translate(1496 1797) scale(1 1.264)">10<tspan class="s" dy="-14">1</tspan></text>
<text class="t" transform="translate(1496 1857) scale(1 1.264)">10<tspan class="s" dy="-14">0</tspan></text>
<text class="t" transform="translate(1496 1916) scale(1 1.264)">10<tspan class="s" dy="-14">-1</tspan></text>
<text class="t" transform="translate(1496 1975) scale(1 1.264)">10<tspan class="s" dy="-14">-2</tspan></text>
<text class="t" transform="translate(1496 2035) scale(1 1.264)">10<tspan class="s" dy="-14">-3</tspan></text>
<text class="t" transform="translate(1496 2094) scale(1 1.264)">10<tspan class="s" dy="-14">-4</tspan></text>
<text class="tm" transform="translate(1394 1860) scale(1 1.264) rotate(-90)">Orf1a gRNA / <tspan font-style="italic">GAPDH</tspan></text>
<text class="tm" transform="translate(1510 2140) scale(1 1.264)">0</text>
<text class="tm" transform="translate(1641 2140) scale(1 1.264)">24</text>
<text class="tm" transform="translate(1772 2140) scale(1 1.264)">48</text>
<text class="tm" transform="translate(1641 2200) scale(1 1.264)">hpi</text>
<g fill="none" stroke-width="2.5">
<polyline points="1521,1993 1565,1910 1641,1773 1772,1726" stroke="#e87a10"/>
<polyline points="1521,1973 1565,1973 1641,1816 1772,1793" stroke="#101a90"/>
<polyline points="1521,1995 1565,1983 1641,1838 1772,1823" stroke="#5a9ae0"/>
<polyline points="1521,2013 1565,2040 1641,1856 1772,1831" stroke="#3a1060"/>
<polyline points="1521,2001 1565,1989 1641,1811 1772,1799" stroke="#c890e0"/>
</g>
<g stroke-width="2">
<ellipse cx="1565" cy="2040" rx="10" ry="13" fill="#d990f2" stroke="#3a1060"/><ellipse cx="1641" cy="1856" rx="10" ry="13" fill="#d990f2" stroke="#3a1060"/><ellipse cx="1772" cy="1831" rx="10" ry="13" fill="#d990f2" stroke="#3a1060"/>
<ellipse cx="1521" cy="1973" rx="10" ry="13" fill="#9cc4f2" stroke="#101a90"/><ellipse cx="1565" cy="1973" rx="10" ry="13" fill="#9cc4f2" stroke="#101a90"/><ellipse cx="1641" cy="1816" rx="10" ry="13" fill="#9cc4f2" stroke="#101a90"/><ellipse cx="1772" cy="1793" rx="10" ry="13" fill="#9cc4f2" stroke="#101a90"/>
<ellipse cx="1521" cy="1993" rx="10" ry="13" fill="#ffe000" stroke="#e88000"/><ellipse cx="1565" cy="1910" rx="10" ry="13" fill="#ffe000" stroke="#e88000"/><ellipse cx="1641" cy="1773" rx="10" ry="13" fill="#ffe000" stroke="#e88000"/><ellipse cx="1772" cy="1726" rx="10" ry="13" fill="#ffe000" stroke="#e88000"/>
</g>
<text class="p" fill="#e87a10" transform="translate(1530 1655) scale(0.86 1.264)">P &lt; 0.0001</text>
<text class="p" fill="#101a90" transform="translate(1530 1687) scale(0.86 1.264)">P = 0.070</text>
<text class="p" fill="#4a1a70" transform="translate(1530 1718) scale(0.86 1.264)">P = 0.87</text>
<text class="p" fill="#d8a0e8" transform="translate(1530 1752) scale(0.86 1.264)">P = 0.0064</text>
<text class="p" fill="#e87a10" transform="translate(1733 1615) scale(0.86 1.264)">P = 0.0075</text>
<text class="p" fill="#101a90" transform="translate(1733 1648) scale(0.86 1.264)">P &gt; 0.99</text>
<text class="p" fill="#4a1a70" transform="translate(1733 1680) scale(0.86 1.264)">P &gt; 0.99</text>
<text class="p" fill="#d8a0e8" transform="translate(1733 1713) scale(0.86 1.264)">P = 0.99</text>
<g stroke-width="2.5">
<line x1="1805" y1="1858" x2="1841" y2="1858" stroke="#e87a10"/><ellipse cx="1823" cy="1858" rx="10" ry="13" fill="#ffe000" stroke="#e88000"/>
<line x1="1805" y1="1906" x2="1841" y2="1906" stroke="#101a90"/><ellipse cx="1823" cy="1906" rx="10" ry="13" fill="#9cc4f2" stroke="#101a90"/>
<line x1="1805" y1="1956" x2="1841" y2="1956" stroke="#5a9ae0"/><polygon points="1823,1943 1814,1963 1832,1963" fill="#1a3ad0"/>
<line x1="1805" y1="2006" x2="1841" y2="2006" stroke="#3a1060"/><ellipse cx="1823" cy="2006" rx="10" ry="13" fill="#d990f2" stroke="#3a1060"/>
<line x1="1805" y1="2060" x2="1841" y2="2060" stroke="#c890e0"/><polygon points="1823,2047 1814,2067 1832,2067" fill="#8a2ab0"/>
</g>
<text class="g" transform="translate(1860 1874) scale(1 1.264)">Delta</text>
<text class="g" transform="translate(1860 1922) scale(1 1.264)">BA.1</text>
<text class="g" transform="translate(1860 1972) scale(1 1.264)">BA.2</text>
<text class="g" transform="translate(1860 2022) scale(1 1.264)">BA.4</text>
<text class="g" transform="translate(1860 2076) scale(1 1.264)">BA.5</text>

<!-- ===== Panel m ===== -->
<text class="L" transform="translate(2038 1612) scale(1 1.264)">m</text>
<path class="ax" d="M2286,1648 V2055 H2606 M2274,1648H2286 M2274,1729H2286 M2274,1811H2286 M2274,1892H2286 M2274,1974H2286 M2274,2055H2286 M2286,2055V2070 M2446,2055V2070 M2606,2055V2070"/>
<text class="t" transform="translate(2270 1664) scale(1 1.264)">2.5</text>
<text class="t" transform="translate(2270 1745) scale(1 1.264)">2.0</text>
<text class="t" transform="translate(2270 1827) scale(1 1.264)">1.5</text>
<text class="t" transform="translate(2270 1908) scale(1 1.264)">1.0</text>
<text class="t" transform="translate(2270 1990) scale(1 1.264)">0.5</text>
<text class="t" transform="translate(2270 2071) scale(1 1.264)">0.0</text>
<text class="tm" transform="translate(2192 1850) scale(1 1.264) rotate(-90)">E copies / Nsp12 copies</text>
<text class="tm" transform="translate(2286 2122) scale(1 1.264)">0</text>
<text class="tm" transform="translate(2446 2122) scale(1 1.264)">24</text>
<text class="tm" transform="translate(2606 2122) scale(1 1.264)">48</text>
<text class="tm" transform="translate(2446 2185) scale(1 1.264)">hpi</text>
<text font-size="34px" text-anchor="middle" transform="translate(2446 1670) scale(1 1.264)">n.s.</text>
<text font-size="34px" transform="translate(2288 1892) scale(1 1.264)">n.s</text>
<g fill="none" stroke-width="2.5">
<polyline points="2299,1941 2446,1762 2606,1852" stroke="#101a90"/>
<polyline points="2299,1941 2446,1778 2606,1860" stroke="#5a9ae0"/>
<polyline points="2299,1941 2446,1710 2606,1734" stroke="#3a1060"/>
<polyline points="2299,1965 2446,1738 2606,1835" stroke="#c890e0"/>
</g>
<path class="e" d="M2446,1690V1735 M2438,1690H2454 M2446,1778V1815 M2438,1815H2454 M2606,1705V1765 M2598,1705H2614 M2598,1765H2614 M2606,1852V1878 M2598,1878H2614"/>
<g stroke-width="2">
<ellipse cx="2299" cy="1941" rx="12" ry="15" fill="#9cc4f2" stroke="#101a90"/><ellipse cx="2446" cy="1762" rx="12" ry="15" fill="#9cc4f2" stroke="#101a90"/><ellipse cx="2606" cy="1852" rx="12" ry="15" fill="#9cc4f2" stroke="#101a90"/>
<ellipse cx="2446" cy="1710" rx="12" ry="15" fill="#d990f2" stroke="#3a1060"/><ellipse cx="2606" cy="1734" rx="12" ry="15" fill="#d990f2" stroke="#3a1060"/>
<polygon points="2299,1952 2290,1972 2308,1972" fill="#8a2ab0"/>
</g>
<path class="e" d="M2618,1728H2665V1846H2640 M2618,1818H2638V1886H2618 M2665,1790H2680" stroke-width="2.5"/>
<text font-size="50px" font-style="italic" transform="translate(2683 1816) scale(0.9 1.264)">P &lt; 0.05</text>
<g stroke-width="2.5">
<line x1="2675" y1="1881" x2="2715" y2="1881" stroke="#101a90"/><ellipse cx="2695" cy="1881" rx="12" ry="15" fill="#9cc4f2" stroke="#101a90"/>
<line x1="2675" y1="1933" x2="2715" y2="1933" stroke="#5a9ae0"/><polygon points="2695,1918 2685,1941 2705,1941" fill="#1a3ad0"/>
<line x1="2675" y1="1988" x2="2715" y2="1988" stroke="#3a1060"/><ellipse cx="2695" cy="1988" rx="12" ry="15" fill="#d990f2" stroke="#3a1060"/>
<line x1="2675" y1="2041" x2="2715" y2="2041" stroke="#c890e0"/><polygon points="2695,2026 2685,2049 2705,2049" fill="#8a2ab0"/>
</g>
<text class="g" transform="translate(2733 1897) scale(1 1.264)">BA.1</text>
<text class="g" transform="translate(2733 1949) scale(1 1.264)">BA.2</text>
<text class="g" transform="translate(2733 2004) scale(1 1.264)">BA.4</text>
<text class="g" transform="translate(2733 2057) scale(1 1.264)">BA.5</text>

<!-- ===== Panel n ===== -->
<text class="L" transform="translate(18 2422) scale(1 1.264)">n</text>
<path class="ax" d="M210,2556 V2946 H530 V2556 M198,2556H210 M198,2751H210 M198,2946H210 M530,2556H542 M530,2751H542 M530,2946H542 M248,2946V2961 M330,2946V2961 M412,2946V2961 M494,2946V2961"/>
<text class="t" transform="translate(194 2572) scale(1 1.264)">10<tspan class="s" dy="-14">9</tspan></text>
<text class="t" transform="translate(194 2767) scale(1 1.264)">10<tspan class="s" dy="-14">8</tspan></text>
<text class="t" transform="translate(194 2962) scale(1 1.264)">10<tspan class="s" dy="-14">7</tspan></text>
<text class="ti" transform="translate(546 2572) scale(1 1.264)">10<tspan class="s" dy="-14">10</tspan></text>
<text class="ti" transform="translate(546 2767) scale(1 1.264)">10<tspan class="s" dy="-14">9</tspan></text>
<text class="ti" transform="translate(546 2962) scale(1 1.264)">10<tspan class="s" dy="-14">8</tspan></text>
<text class="tm" transform="translate(66 2743) scale(1 1.264) rotate(-90)">E copies/μg RNA</text>
<text class="tm" transform="translate(110 2743) scale(1 1.264) rotate(-90)">(Cell)</text>
<text class="tm" transform="translate(670 2748) scale(1 1.264) rotate(90)">E copies/ml</text>
<text class="tm" transform="translate(628 2748) scale(1 1.264) rotate(90)">(Supernatant)</text>
<ellipse cx="255" cy="2478" rx="11" ry="14" fill="#000"/><ellipse cx="255" cy="2536" rx="11" ry="14" fill="#fff" stroke="#000" stroke-width="2"/>
<text class="g" transform="translate(290 2494) scale(1 1.264)">Cell</text>
<text class="g" transform="translate(290 2552) scale(1 1.264)">Supernatant</text>
<g fill="#000">
<ellipse cx="235" cy="2698" rx="11" ry="14"/><ellipse cx="235" cy="2718" rx="11" ry="14"/><ellipse cx="235" cy="2763" rx="11" ry="14"/>
<ellipse cx="315" cy="2823" rx="11" ry="14"/><ellipse cx="315" cy="2853" rx="11" ry="14"/><ellipse cx="315" cy="2873" rx="11" ry="14"/>
<ellipse cx="395" cy="2763" rx="11" ry="14"/><ellipse cx="395" cy="2793" rx="11" ry="14"/><ellipse cx="395" cy="2803" rx="11" ry="14"/>
<ellipse cx="475" cy="2728" rx="11" ry="14"/><ellipse cx="475" cy="2763" rx="11" ry="14"/><ellipse cx="475" cy="2773" rx="11" ry="14"/>
</g>
<g fill="#fff" stroke="#000" stroke-width="2">
<ellipse cx="265" cy="2733" rx="11" ry="14"/><ellipse cx="265" cy="2748" rx="11" ry="14"/>
<ellipse cx="345" cy="2818" rx="11" ry="14"/><ellipse cx="345" cy="2838" rx="11" ry="14"/><ellipse cx="345" cy="2858" rx="11" ry="14"/>
<ellipse cx="425" cy="2778" rx="11" ry="14"/><ellipse cx="425" cy="2823" rx="11" ry="14"/>
<ellipse cx="505" cy="2708" rx="11" ry="14"/><ellipse cx="505" cy="2728" rx="11" ry="14"/><ellipse cx="505" cy="2748" rx="11" ry="14"/>
</g>
<path class="e" d="M222,2730H248 M235,2730V2755 M252,2740H278 M302,2850H328 M332,2838H358 M382,2790H408 M412,2800H438 M425,2800V2815 M462,2755H488 M492,2728H518"/>
<text class="t" transform="translate(262 2985) scale(1 1.264) rotate(-45)">BA.1</text>
<text class="t" transform="translate(344 2985) scale(1 1.264) rotate(-45)">BA.2</text>
<text class="t" transform="translate(426 2985) scale(1 1.264) rotate(-45)">BA.4</text>
<text class="t" transform="translate(508 2985) scale(1 1.264) rotate(-45)">BA.5</text>

<!-- ===== Panel o ===== -->
<text class="L" transform="translate(770 2422) scale(1 1.264)">o</text>
<path class="ax" d="M932,2508 V2911 H1250 M920,2508H932 M920,2710H932 M920,2911H932 M932,2911V2926 M1090,2911V2926 M1250,2911V2926"/>
<text class="t" transform="translate(916 2524) scale(1 1.264)">10<tspan class="s" dy="-14">10</tspan></text>
<text class="t" transform="translate(916 2726) scale(1 1.264)">10<tspan class="s" dy="-14">9</tspan></text>
<text class="t" transform="translate(916 2927) scale(1 1.264)">10<tspan class="s" dy="-14">8</tspan></text>
<text class="tm" transform="translate(932 2980) scale(1 1.264)">10<tspan class="s" dy="-14">7</tspan></text>
<text class="tm" transform="translate(1090 2980) scale(1 1.264)">10<tspan class="s" dy="-14">8</tspan></text>
<text class="tm" transform="translate(1250 2980) scale(1 1.264)">10<tspan class="s" dy="-14">9</tspan></text>
<text class="tm" transform="translate(790 2708) scale(1 1.264) rotate(-90)">E copies/ml</text>
<text class="tm" transform="translate(830 2708) scale(1 1.264) rotate(-90)">(Supernatant)</text>
<text class="tm" transform="translate(1090 3060) scale(1 1.264)">E copies/μg RNA</text>
<text class="tm" transform="translate(1090 3112) scale(1 1.264)">(Cell)</text>
<text font-size="36px" transform="translate(945 2556) scale(1 1.264)">R<tspan dy="-12" font-size="24">2</tspan><tspan dy="12"> = 0.336</tspan></text>
<text font-size="38px" font-style="italic" transform="translate(945 2601) scale(0.9 1.264)">P = 0.048</text>
<g stroke-width="3">
<ellipse cx="993" cy="2820" rx="10" ry="13" fill="#1a4ff5" stroke="#a0b8ff"/><ellipse cx="1013" cy="2785" rx="10" ry="13" fill="#1a4ff5" stroke="#a0b8ff"/><ellipse cx="1028" cy="2776" rx="10" ry="13" fill="#1a4ff5" stroke="#a0b8ff"/>
<ellipse cx="1047" cy="2791" rx="10" ry="13" fill="#d090f0" stroke="#9040c0"/><ellipse cx="1052" cy="2743" rx="10" ry="13" fill="#d090f0" stroke="#9040c0"/><ellipse cx="1080" cy="2740" rx="10" ry="13" fill="#d090f0" stroke="#9040c0"/>
<ellipse cx="1075" cy="2688" rx="10" ry="13" fill="#9a30c0" stroke="#e0a0f0"/><ellipse cx="1080" cy="2668" rx="10" ry="13" fill="#9a30c0" stroke="#e0a0f0"/><ellipse cx="1105" cy="2713" rx="10" ry="13" fill="#9a30c0" stroke="#e0a0f0"/>
<ellipse cx="1082" cy="2700" rx="10" ry="13" fill="#9cc4f2" stroke="#2040c0"/><ellipse cx="1115" cy="2693" rx="10" ry="13" fill="#9cc4f2" stroke="#2040c0"/><ellipse cx="1130" cy="2710" rx="10" ry="13" fill="#9cc4f2" stroke="#2040c0"/>
</g>

<!-- ===== Panel p ===== -->
<text class="L" transform="translate(1318 2422) scale(1 1.264)">p</text>
<path class="ax" d="M1445,2508 V2911 H1766 M1433,2508H1445 M1433,2710H1445 M1433,2911H1445 M1445,2911V2926 M1606,2911V2926 M1766,2911V2926"/>
<text class="t" transform="translate(1429 2524) scale(1 1.264)">10<tspan class="s" dy="-14">10</tspan></text>
<text class="t" transform="translate(1429 2726) scale(1 1.264)">10<tspan class="s" dy="-14">9</tspan></text>
<text class="t" transform="translate(1429 2927) scale(1 1.264)">10<tspan class="s" dy="-14">8</tspan></text>
<text class="tm" transform="translate(1445 2980) scale(1 1.264)">10<tspan class="s" dy="-14">8</tspan></text>
<text class="tm" transform="translate(1606 2980) scale(1 1.264)">10<tspan class="s" dy="-14">9</tspan></text>
<text class="tm" transform="translate(1766 2980) scale(1 1.264)">10<tspan class="s" dy="-14">10</tspan></text>
<text class="tm" transform="translate(1346 2708) scale(1 1.264) rotate(-90)">Nsp12 copies/ml</text>
<text class="tm" transform="translate(1606 3048) scale(1 1.264)">E copies/ml</text>
<text font-size="36px" transform="translate(1465 2539) scale(1 1.264)">R<tspan dy="-12" font-size="24">2</tspan><tspan dy="12"> = 0.960</tspan></text>
<text font-size="38px" font-style="italic" transform="translate(1465 2581) scale(0.9 1.264)">P &lt; 0.0001</text>
<g stroke-width="3">
<ellipse cx="1517" cy="2810" rx="10" ry="13" fill="#1a4ff5" stroke="#a0b8ff"/><ellipse cx="1543" cy="2798" rx="10" ry="13" fill="#d090f0" stroke="#9040c0"/><ellipse cx="1552" cy="2776" rx="10" ry="13" fill="#1a4ff5" stroke="#a0b8ff"/>
<ellipse cx="1578" cy="2756" rx="10" ry="13" fill="#d090f0" stroke="#9040c0"/><ellipse cx="1583" cy="2750" rx="10" ry="13" fill="#d090f0" stroke="#9040c0"/><ellipse cx="1603" cy="2696" rx="10" ry="13" fill="#d090f0" stroke="#9040c0"/>
<ellipse cx="1613" cy="2683" rx="10" ry="13" fill="#1a4ff5" stroke="#a0b8ff"/><ellipse cx="1618" cy="2686" rx="10" ry="13" fill="#1a4ff5" stroke="#a0b8ff"/><ellipse cx="1626" cy="2680" rx="10" ry="13" fill="#9a30c0" stroke="#e0a0f0"/><ellipse cx="1640" cy="2663" rx="10" ry="13" fill="#9a30c0" stroke="#e0a0f0"/>
</g>

<!-- ===== Panel q ===== -->
<text class="L" transform="translate(1753 2440) scale(1 1.264)">q</text>
<text class="tm" transform="translate(2101 2440) scale(1 1.264)">HAE</text>
<path class="ax" d="M1940,2480 V2896 H2260 M1928,2480H1940 M1928,2619H1940 M1928,2757H1940 M1928,2896H1940 M1940,2896V2911 M2046,2896V2911 M2153,2896V2911 M2260,2896V2911"/>
<text class="t" transform="translate(1924 2496) scale(1 1.264)">10<tspan class="s" dy="-14">10</tspan></text>
<text class="t" transform="translate(1924 2635) scale(1 1.264)">10<tspan class="s" dy="-14">9</tspan></text>
<text class="t" transform="translate(1924 2773) scale(1 1.264)">10<tspan class="s" dy="-14">8</tspan></text>
<text class="t" transform="translate(1924 2912) scale(1 1.264)">10<tspan class="s" dy="-14">7</tspan></text>
<text class="tm" transform="translate(1940 2963) scale(1 1.264)">10<tspan class="s" dy="-14">7</tspan></text>
<text class="tm" transform="translate(2046 2963) scale(1 1.264)">10<tspan class="s" dy="-14">8</tspan></text>
<text class="tm" transform="translate(2153 2963) scale(1 1.264)">10<tspan class="s" dy="-14">9</tspan></text>
<text class="tm" transform="translate(2260 2963) scale(1 1.264)">10<tspan class="s" dy="-14">10</tspan></text>
<text class="tm" transform="translate(1838 2688) scale(1 1.264) rotate(-90)">Nsp12 copies/ml</text>
<text class="tm" transform="translate(2101 3038) scale(1 1.264)">E copies/ml</text>
<text font-size="36px" transform="translate(1958 2521) scale(1 1.264)">R<tspan dy="-12" font-size="24">2</tspan><tspan dy="12"> = 0.989</tspan></text>
<text font-size="38px" font-style="italic" transform="translate(1958 2566) scale(0.9 1.264)">P &lt; 0.0001</text>
<g stroke-width="3">
<ellipse cx="1978" cy="2836" rx="10" ry="13" fill="#d090f0" stroke="#9040c0"/><ellipse cx="1986" cy="2833" rx="10" ry="13" fill="#1a4ff5" stroke="#a0b8ff"/><ellipse cx="2008" cy="2803" rx="10" ry="13" fill="#1a4ff5" stroke="#a0b8ff"/><ellipse cx="2016" cy="2773" rx="10" ry="13" fill="#9a30c0" stroke="#e0a0f0"/><ellipse cx="2043" cy="2766" rx="10" ry="13" fill="#1a4ff5" stroke="#a0b8ff"/><ellipse cx="2065" cy="2726" rx="10" ry="13" fill="#9a30c0" stroke="#e0a0f0"/>
<ellipse cx="2101" cy="2678" rx="10" ry="13" fill="#d090f0" stroke="#9040c0"/><ellipse cx="2106" cy="2666" rx="10" ry="13" fill="#1a4ff5" stroke="#a0b8ff"/><ellipse cx="2126" cy="2650" rx="10" ry="13" fill="#9a30c0" stroke="#e0a0f0"/><ellipse cx="2133" cy="2653" rx="10" ry="13" fill="#d090f0" stroke="#9040c0"/><ellipse cx="2146" cy="2630" rx="10" ry="13" fill="#1a4ff5" stroke="#a0b8ff"/><ellipse cx="2150" cy="2626" rx="10" ry="13" fill="#9a30c0" stroke="#e0a0f0"/>
<ellipse cx="2170" cy="2613" rx="10" ry="13" fill="#1a4ff5" stroke="#a0b8ff"/><ellipse cx="2173" cy="2593" rx="10" ry="13" fill="#d090f0" stroke="#9040c0"/><ellipse cx="2180" cy="2588" rx="10" ry="13" fill="#9a30c0" stroke="#e0a0f0"/><ellipse cx="2205" cy="2563" rx="10" ry="13" fill="#9a30c0" stroke="#e0a0f0"/><ellipse cx="2213" cy="2548" rx="10" ry="13" fill="#1a4ff5" stroke="#a0b8ff"/>
</g>

<!-- ===== Panel r ===== -->
<text class="L" transform="translate(2320 2415) scale(1 1.264)">r</text>
<path class="ax" d="M2440,2498 V2916 H2943 M2428,2498H2440 M2428,2637H2440 M2428,2777H2440 M2428,2916H2440 M2565,2916V2931 M2823,2916V2931"/>
<text class="t" transform="translate(2424 2514) scale(1 1.264)">60</text>
<text class="t" transform="translate(2424 2653) scale(1 1.264)">40</text>
<text class="t" transform="translate(2424 2793) scale(1 1.264)">20</text>
<text class="t" transform="translate(2424 2932) scale(1 1.264)">0</text>
<text class="tm" transform="translate(2372 2708) scale(1 1.264) rotate(-90)">% N+</text>
<text class="tm" transform="translate(2565 2985) scale(1 1.264)">24</text>
<text class="tm" transform="translate(2823 2985) scale(1 1.264)">48</text>
<text class="tm" transform="translate(2695 3055) scale(1 1.264)">hpi</text>
<g stroke-width="2.5">
<rect x="2459" y="2707" width="32" height="209" fill="#ffee10" stroke="#f08000"/>
<rect x="2504" y="2843" width="32" height="73" fill="#90bbf0" stroke="#102080"/>
<rect x="2549" y="2885" width="32" height="31" fill="#0010c0" stroke="#80b0f0"/>
<rect x="2595" y="2899" width="32" height="17" fill="#f8b0e8" stroke="#102080"/>
<rect x="2640" y="2832" width="32" height="84" fill="#7a0a9a" stroke="#e090f0"/>
<rect x="2715" y="2599" width="32" height="317" fill="#ffee10" stroke="#f08000"/>
<rect x="2760" y="2728" width="32" height="188" fill="#90bbf0" stroke="#102080"/>
<rect x="2807" y="2832" width="32" height="84" fill="#0010c0" stroke="#80b0f0"/>
<rect x="2852" y="2853" width="32" height="63" fill="#f8b0e8" stroke="#102080"/>
<rect x="2897" y="2693" width="32" height="223" fill="#7a0a9a" stroke="#e090f0"/>
</g>
<g stroke-width="2">
<g fill="#ffe000" stroke="#f08000"><ellipse cx="2468" cy="2700" rx="10" ry="13"/><ellipse cx="2480" cy="2712" rx="10" ry="13"/><ellipse cx="2470" cy="2722" rx="10" ry="13"/><ellipse cx="2724" cy="2582" rx="10" ry="13"/><ellipse cx="2738" cy="2605" rx="10" ry="13"/><ellipse cx="2731" cy="2640" rx="10" ry="13"/></g>
<g fill="#90bbf0" stroke="#102080"><ellipse cx="2514" cy="2822" rx="10" ry="13"/><ellipse cx="2528" cy="2838" rx="10" ry="13"/><ellipse cx="2514" cy="2858" rx="10" ry="13"/><ellipse cx="2770" cy="2715" rx="10" ry="13"/><ellipse cx="2784" cy="2730" rx="10" ry="13"/><ellipse cx="2770" cy="2745" rx="10" ry="13"/></g>
<g fill="#f8b0e8" stroke="#102080"><ellipse cx="2604" cy="2903" rx="10" ry="13"/><ellipse cx="2620" cy="2903" rx="10" ry="13"/><ellipse cx="2611" cy="2888" rx="10" ry="13"/><ellipse cx="2868" cy="2826" rx="10" ry="13"/><ellipse cx="2860" cy="2872" rx="10" ry="13"/><ellipse cx="2876" cy="2866" rx="10" ry="13"/></g>
<g fill="#0010c0" stroke="#80b0f0"><polygon points="2558,2870 2550,2888 2566,2888"/><polygon points="2572,2872 2564,2890 2580,2890"/><polygon points="2823,2800 2815,2818 2831,2818"/><polygon points="2814,2826 2806,2844 2822,2844"/><polygon points="2832,2826 2824,2844 2840,2844"/></g>
<g fill="#7a0a9a" stroke="#e090f0"><polygon points="2650,2815 2642,2833 2658,2833"/><polygon points="2662,2812 2654,2830 2670,2830"/><polygon points="2905,2660 2897,2678 2913,2678"/><polygon points="2921,2660 2913,2678 2929,2678"/><polygon points="2913,2745 2905,2763 2921,2763" fill="none"/></g>
</g>
<text class="p" transform="translate(2533 2536) scale(0.86 1.264)">P = 0.0002</text>
<text class="p" transform="translate(2453 2591) scale(0.86 1.264)">P &lt; 0.0001</text>
<text class="p" transform="translate(2453 2644) scale(0.86 1.264)">P = 0.0046</text>
<text class="p" transform="translate(2521 2696) scale(0.86 1.264)">P = 0.014</text>
<text class="p" transform="translate(2790 2451) scale(0.86 1.264)">P = 0.0002</text>
<text class="p" transform="translate(2710 2499) scale(0.86 1.264)">P &lt; 0.0001</text>
<text class="p" transform="translate(2710 2554) scale(0.86 1.264)">P = 0.0022</text>
<text class="p" transform="translate(2778 2604) scale(0.86 1.264)">P = 0.52</text>
<path class="e" d="M2568,2545H2653 M2475,2600H2565 M2512,2654H2555 M2568,2706H2610 M2826,2459H2913 M2733,2508H2823 M2770,2563H2823 M2826,2612H2866"/>
<g stroke-width="3">
<rect x="2976" y="2658" width="34" height="43" fill="#ffee10" stroke="#f08000"/>
<rect x="2976" y="2716" width="34" height="43" fill="#90bbf0" stroke="#102080"/>
<rect x="2976" y="2771" width="34" height="43" fill="#0010c0" stroke="#80b0f0"/>
<rect x="2976" y="2824" width="34" height="43" fill="#f8b0e8" stroke="#102080"/>
<rect x="2976" y="2876" width="34" height="43" fill="#7a0a9a" stroke="#e090f0"/>
</g>
<text class="g" transform="translate(3030 2696) scale(1 1.264)">Delta</text>
<text class="g" transform="translate(3030 2754) scale(1 1.264)">BA.1</text>
<text class="g" transform="translate(3030 2809) scale(1 1.264)">BA.2</text>
<text class="g" transform="translate(3030 2862) scale(1 1.264)">BA.4</text>
<text class="g" transform="translate(3030 2914) scale(1 1.264)">BA.5</text>
</svg>
</body></html>
